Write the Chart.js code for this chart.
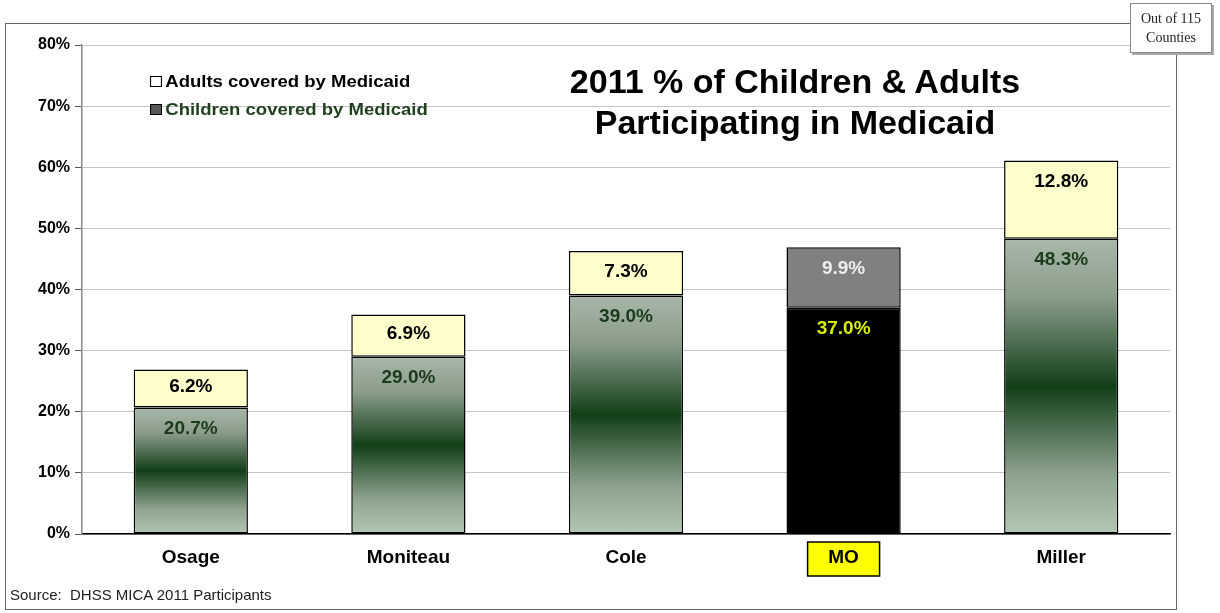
<!DOCTYPE html>
<html>
<head>
<meta charset="utf-8">
<script src="https://cdn.jsdelivr.net/npm/chart.js@4"></script>
<style>
  html, body { margin: 0; padding: 0; background: #fff; }
  body { width: 1220px; height: 613px; position: relative; overflow: hidden; font-family: "Liberation Sans", Arial, sans-serif; }
  #frame { position: absolute; left: 5px; top: 23px; width: 1172px; height: 587px; border: 1.5px solid #666; box-sizing: border-box; }
  #chart { position: absolute; left: 0; top: 0; }
  .title { position: absolute; left: 495px; width: 600px; top: 61px; text-align: center; font-weight: bold; font-size: 34px; line-height: 41px; color: #000; }
  .legend { position: absolute; left: 150px; font-weight: bold; font-size: 17px; line-height: 18px; transform: scaleX(1.09); transform-origin: 0 0; white-space: nowrap; }
  .legend span.box { display: inline-block; width: 9px; height: 9px; border: 1px solid #000; margin-right: 3px; vertical-align: 0px; }
  .source { position: absolute; left: 10px; top: 586px; font-size: 15px; color: #222; }
  .note { position: absolute; left: 1130px; top: 3px; width: 82px; height: 50px; background: #fff; border: 1px solid #888; box-shadow: 2px 2px 0 #aaa; font-family: "Liberation Serif", "Times New Roman", serif; font-size: 14px; line-height: 19px; text-align: center; padding-top: 5px; box-sizing: border-box; color: #222; }
</style>
</head>
<body>
<div id="frame"></div>
<canvas id="chart" width="1220" height="613"></canvas>
<div class="title">2011 % of Children &amp; Adults<br>Participating in Medicaid</div>
<div class="legend" style="top:73px;color:#000"><span class="box" style="background:#fff"></span>Adults covered by Medicaid</div>
<div class="legend" style="top:101px;color:#1f3f1f"><span class="box" style="background:#5a5a5a"></span>Children covered by Medicaid</div>
<div class="source">Source:&nbsp; DHSS MICA 2011 Participants</div>
<div class="note">Out of 115<br>Counties</div>
<script>
// chart data
const categories = ['Osage', 'Moniteau', 'Cole', 'MO', 'Miller'];
const childrenPct = [20.7, 29.0, 39.0, 37.0, 48.3];
const adultsPct = [6.2, 6.9, 7.3, 9.9, 12.8];
const highlight = 'MO';

// children bars: light grey-green at ends, dark green in the middle
function childrenFill(ctx) {
    if (ctx.type !== 'data') return '#7d8f7d';
    if (categories[ctx.dataIndex] === highlight) return '#000';
    const chart = ctx.chart;
    const ys = chart.scales.y;
    if (!chart.chartArea || !ys) return '#7d8f7d';
    const top = ys.getPixelForValue(ctx.raw);
    const bot = ys.getPixelForValue(0);
    if (!isFinite(top) || !isFinite(bot) || bot - top < 1) return '#7d8f7d';
    const g = chart.ctx.createLinearGradient(0, top, 0, bot);
    g.addColorStop(0, '#a9b8a9');
    g.addColorStop(0.2, '#8a9c8a');
    g.addColorStop(0.5, '#123f18');
    g.addColorStop(0.8, '#8ea28e');
    g.addColorStop(1, '#b4c6b4');
    return g;
}

const labelPlugin = {
    id: 'segLabels',
    beforeDraw(chart) {
        // yellow box behind the highlighted category label
        const xs = chart.scales.x;
        const i = categories.indexOf(highlight);
        const cx = xs.getPixelForValue(i);
        const c = chart.ctx;
        c.save();
        c.fillStyle = '#ffff00';
        c.strokeStyle = '#000';
        c.lineWidth = 1.5;
        c.fillRect(cx - 36, 542, 72, 34);
        c.strokeRect(cx - 36, 542, 72, 34);
        c.restore();
    },
    afterDatasetsDraw(chart) {
        const c = chart.ctx;
        c.save();
        c.font = 'bold 19px "Liberation Sans", Arial, sans-serif';
        c.textAlign = 'center';
        c.textBaseline = 'middle';
        chart.data.datasets.forEach((ds, di) => {
            const meta = chart.getDatasetMeta(di);
            meta.data.forEach((bar, i) => {
                const top = bar.y, base = bar.base;
                const y = Math.min(top + 21, (top + base) / 2 - 2);
                const isMO = categories[i] === highlight;
                if (di === 0) c.fillStyle = isMO ? '#d8f000' : '#1c3a1c';
                else c.fillStyle = isMO ? '#eeeeee' : '#000';
                c.fillText(ds.data[i].toFixed(1) + '%', bar.x, y);
            });
        });
        c.restore();
    }
};

new Chart(document.getElementById('chart'), {
    type: 'bar',
    data: {
        labels: categories,
        datasets: [
            {
                label: 'Children covered by Medicaid',
                data: childrenPct,
                backgroundColor: childrenFill,
                borderColor: '#000',
                borderWidth: 1.5,
                borderSkipped: false
            },
            {
                label: 'Adults covered by Medicaid',
                data: adultsPct,
                backgroundColor: categories.map(c => c === highlight ? '#808080' : '#ffffcc'),
                borderColor: '#000',
                borderWidth: 1.5,
                borderSkipped: false
            }
        ]
    },
    options: {
        responsive: false,
        animation: false,
        layout: { padding: { left: 0, top: 45, right: 50, bottom: 0 } },
        datasets: { bar: { categoryPercentage: 1, barPercentage: 0.525 } },
        plugins: { legend: { display: false }, tooltip: { enabled: false } },
        scales: {
            x: {
                stacked: true,
                grid: { display: false },
                border: { color: '#000', width: 1.5 },
                ticks: { color: '#000', padding: 4, font: { family: '"Liberation Sans", Arial, sans-serif', size: 19, weight: 'bold' } },
                afterFit: s => { s.height = 79; }
            },
            y: {
                stacked: true,
                min: 0,
                max: 80,
                ticks: {
                    stepSize: 10,
                    color: '#000',
                    padding: 5,
                    font: { family: '"Liberation Sans", Arial, sans-serif', size: 16, weight: 'bold' },
                    callback: v => v + '%'
                },
                grid: { color: '#c4c4c4', tickColor: '#555', tickLength: 7 },
                border: { color: '#888', width: 1.5 },
                afterFit: s => { s.width = 82; }
            }
        }
    },
    plugins: [labelPlugin]
});
</script>
</body>
</html>
